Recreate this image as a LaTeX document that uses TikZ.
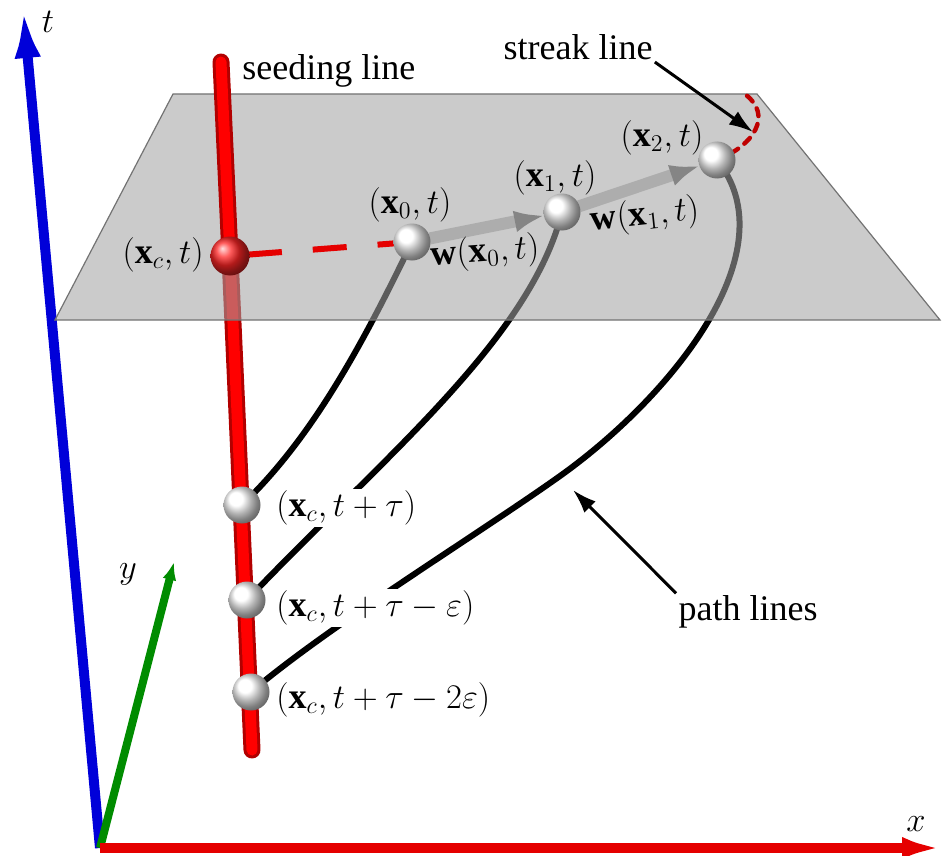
\documentclass[tikz,border=0pt]{standalone}
\usepackage{amssymb,amsmath}
\usepackage{fontspec}
\setmainfont{Liberation Serif}
\usepackage{tikz}
\usetikzlibrary{arrows.meta,positioning}

\begin{document}
\begin{tikzpicture}[x=0.5pt,y=-0.5pt]
	\tikzstyle{ball}=[circle,minimum size=18.5pt,inner sep=0pt,shading=ball,ball color=white]
	\tikzstyle{lbl}=[font=\fontsize{18}{22}\selectfont,inner sep=1pt]
	\tikzstyle{tube}=[draw=red!70!black,double=red,double distance=5.5pt,line width=1.5pt,line cap=round]
	\tikzstyle{pathline}=[draw,line width=3pt,black]
	\tikzstyle{pointer}=[draw,line width=1.5pt,black,-{Latex[length=12pt,width=8pt]}]
	\tikzstyle{vel}=[draw,line width=6pt,black!32,shorten <=9pt,shorten >=9pt,-{Latex[length=15pt,width=11pt,color=black!48]}]
	\useasboundingbox (0,0) rectangle (942,856);

	\coordinate (o) at (100,848);
	\coordinate (tend) at (23,6);
	\coordinate (xend) at (942,848);
	\coordinate (yend) at (174,562);
	\coordinate (stop) at (221,62);
	\coordinate (sbot) at (252,750);
	\coordinate (c) at (230,256);
	\coordinate (p0) at (412,242);
	\coordinate (p1) at (562,212);
	\coordinate (p2) at (717,160);
	\coordinate (q1) at (242,505);
	\coordinate (q2) at (247,600);
	\coordinate (q3) at (251,692);
	\coordinate (stip) at (753,132);
	\coordinate (ptip) at (573,490);

	\draw[line width=5pt,blue!85!black,-{Latex[length=26pt,width=13pt]}] (o) -- (tend);
	\draw[line width=4pt,green!55!black,-{Latex[length=9pt,width=7pt]}] (o) -- (yend);
	\draw[line width=5pt,red!90!black,-{Latex[length=20pt,width=11pt]}] (o) -- (xend);
	\node[lbl] (tlab) at (48,22) {$t$};
	\node[lbl] (xlab) at (916,824) {$x$};
	\node[lbl] (ylab) at (128,574) {$y$};

	\draw[tube] (c) -- (sbot);
	\draw[pathline] (p0) .. controls (360,350) and (310,440) .. (q1);
	\draw[pathline] (p1) .. controls (530,340) and (380,460) .. (q2);
	\draw[pathline] (p2) .. controls (790,250) and (672,396) .. (560,476) .. controls (480,533) and (330,625) .. (q3);
	\node[ball] (s1) at (q1) {};
	\node[ball] (s2) at (q2) {};
	\node[ball] (s3) at (q3) {};

	\filldraw[fill=black!36,fill opacity=0.57,draw=black!55,line width=0.6pt] (173,94) -- (757,94) -- (940,320) -- (55,320) -- cycle;

	\draw[tube] (stop) -- (c);
	\draw[red!90!black,line width=3pt,dash pattern=on 17pt off 15.5pt,dash phase=23.5pt] (c) -- (p0);
	\node[ball,ball color=red!85!white,minimum size=19.5pt] (rs) at (c) {};
	\draw[red!75!black,line width=2.2pt,line cap=round,dash pattern=on 4pt off 4pt] (p2) .. controls (755,145) and (772,115) .. (746,95);
	\draw[vel] (p0) -- (p1);
	\draw[vel] (p1) -- (p2);
	\node[ball] (b0) at (p0) {};
	\node[ball] (b1) at (p1) {};
	\node[ball] (b2) at (p2) {};

	\node[lbl,anchor=west] (seed) at (240,71) {seeding line};
	\node[lbl] (streak) at (578,47) {streak line};
	\node[lbl] (plines) at (748,612) {path lines};
	\draw[pointer] (streak.south east) -- (stip);
	\draw[pointer] (plines.north west) -- (ptip);

	\node[lbl,anchor=east] (lc) at (206,255) {$(\mathbf{x}_c,t)$};
	\node[lbl] (l0) at (410,205) {$(\mathbf{x}_0,t)$};
	\node[lbl] (l1) at (555,178) {$(\mathbf{x}_1,t)$};
	\node[lbl] (l2) at (662,138) {$(\mathbf{x}_2,t)$};
	\node[lbl,rotate=4] (w0) at (485,253) {$\mathbf{w}(\mathbf{x}_0,t)$};
	\node[lbl,rotate=6] (w1) at (645,216) {$\mathbf{w}(\mathbf{x}_1,t)$};
	\node[lbl,fill=white,anchor=west] (l3) at (274,508) {$(\mathbf{x}_c,t+\tau)$};
	\node[lbl,fill=white,anchor=west] (l4) at (274,608) {$(\mathbf{x}_c,t+\tau-\varepsilon)$};
	\node[lbl,fill=white,anchor=west] (l5) at (274,700) {$(\mathbf{x}_c,t+\tau-2\varepsilon)$};
\end{tikzpicture}
\end{document}
